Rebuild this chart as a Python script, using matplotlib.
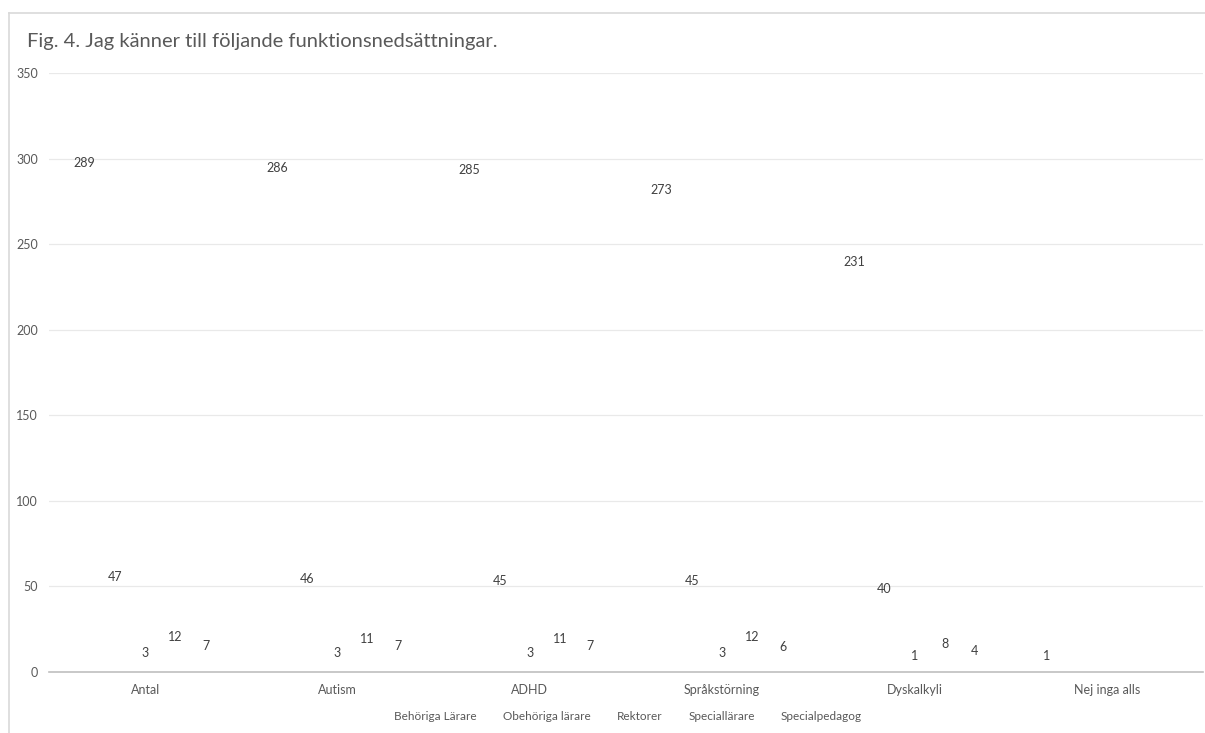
import matplotlib
matplotlib.use("Agg")
import matplotlib.pyplot as plt
import numpy as np
from matplotlib.lines import Line2D

plt.rcParams['font.family'] = ['Lato', 'DejaVu Sans']

categories = ["Antal", "Autism", "ADHD", "Språkstörning", "Dyskalkyli", "Nej inga alls"]
series_names = ["Behöriga Lärare", "Obehöriga lärare", "Rektorer", "Speciallärare", "Specialpedagog"]
behoriga = [289, 286, 285, 273, 231, 1]
obehoriga = [47, 46, 45, 45, 40, np.nan]
rektorer = [3, 3, 3, 3, 1, np.nan]
speciallarare = [12, 11, 11, 12, 8, np.nan]
specialpedagog = [7, 7, 7, 6, 4, np.nan]
all_series = [behoriga, obehoriga, rektorer, speciallarare, specialpedagog]

W, H = 1205, 733
fig = plt.figure(figsize=(W / 100, H / 100), dpi=100)
ax = fig.add_axes([49 / W, 61 / H, 1154 / W, 599 / H])

# chart border (Excel chart area)
fig.add_artist(Line2D([9 / W, 9 / W], [0, 1 - 13 / H], color="#d9d9d9", lw=1.2))
fig.add_artist(Line2D([9 / W, 1], [1 - 13 / H, 1 - 13 / H], color="#d9d9d9", lw=1.2))

x = np.arange(len(categories))
bw = 0.157
for i, (name, vals) in enumerate(zip(series_names, all_series)):
    vals = np.array(vals, dtype=float)
    bars = ax.bar(x + (i - 2) * bw, vals, bw, facecolor="none", edgecolor="none", label=name)
    labels = ["" if np.isnan(v) else f"{v:.0f}" for v in vals]
    ax.bar_label(bars, labels=labels, padding=6, fontsize=9, color="#404040")

ax.set_xlim(-0.5, len(categories) - 0.5)
ax.set_ylim(0, 350)
ax.set_yticks(range(0, 351, 50))
ax.set_xticks(x)
ax.set_xticklabels(categories)
ax.tick_params(axis="both", length=0, labelsize=9, labelcolor="#595959")
ax.tick_params(axis="y", pad=8)
ax.tick_params(axis="x", pad=9)
ax.grid(axis="y", color="#e9e9e9", lw=0.9)
ax.set_axisbelow(True)
for s in ["top", "right", "left"]:
    ax.spines[s].set_visible(False)
ax.spines["bottom"].set_color("#bfbfbf")
ax.spines["bottom"].set_linewidth(1.2)

fig.text(27 / W, 1 - 42 / H, "Fig. 4. Jag känner till följande funktionsnedsättningar.",
         fontsize=14.5, color="#595959", va="center", ha="left")

fig.legend(loc="center", bbox_to_anchor=(628 / W, 1 - 717 / H), ncol=5, frameon=False,
           handlelength=0, handletextpad=0, columnspacing=2.2, fontsize=8.5,
           labelcolor="#595959")

fig.savefig("out.png", dpi=100)
